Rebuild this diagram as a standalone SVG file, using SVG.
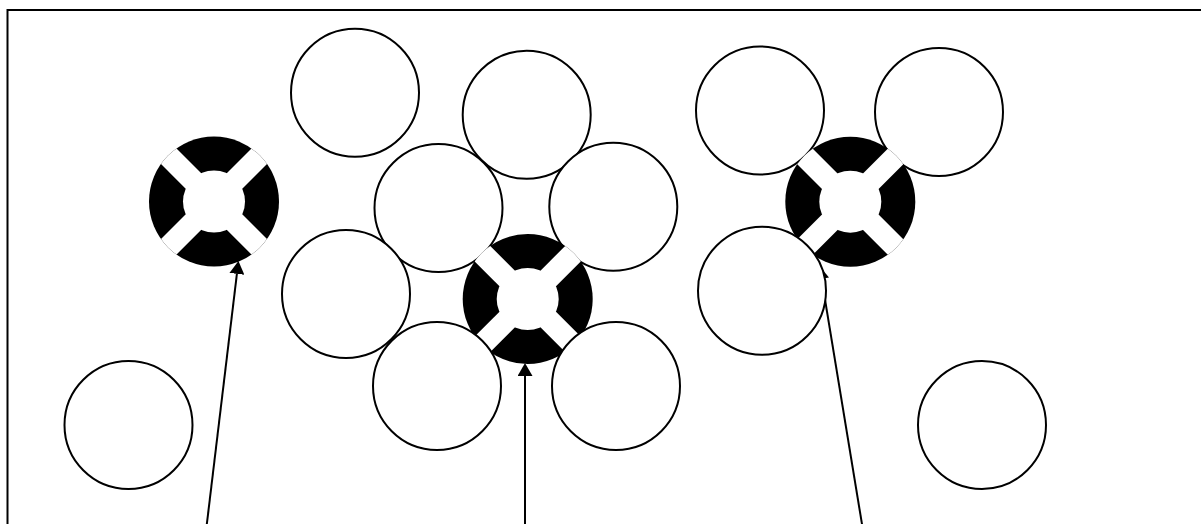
<svg xmlns="http://www.w3.org/2000/svg" xmlns:xlink="http://www.w3.org/1999/xlink" width="1201" height="524" viewBox="0 0 1201 524">
  <style>
    .c { fill: #fff; stroke: #000; stroke-width: 2; }
    .frame { fill: none; stroke: #000; stroke-width: 2; }
    .arrow { fill: none; stroke: #000; stroke-width: 2; marker-end: url(#ah); }
  </style>
  <defs>
    <clipPath id="dclip"><circle r="65"/></clipPath>
    <marker id="ah" markerUnits="userSpaceOnUse" viewBox="0 0 13 15" markerWidth="13" markerHeight="15" refX="0" refY="7.5" orient="auto">
      <path d="M0,0 L13,7.5 L0,15 z" fill="#000"/>
    </marker>
    <g id="donut">
      <circle r="65" fill="#000"/>
      <circle r="31" fill="#fff"/>
      <g clip-path="url(#dclip)" fill="#fff">
        <rect x="-70" y="-11" width="140" height="22" transform="rotate(45)"/>
        <rect x="-70" y="-11" width="140" height="22" transform="rotate(-45)"/>
      </g>
    </g>
  </defs>
  <rect width="1201" height="524" fill="#fff"/>
  <path class="frame" d="M7.5,526 V10 H1203"/>

  <g id="circle-top-left"><circle class="c" cx="355" cy="92.7" r="64"/></g>
  <g id="circle-top-middle"><circle class="c" cx="526.7" cy="114.8" r="64"/></g>
  <g id="circle-upper-left"><circle class="c" cx="438.5" cy="208" r="64"/></g>
  <g id="circle-upper-right"><circle class="c" cx="613.3" cy="206.7" r="64"/></g>
  <g id="circle-mid-left"><circle class="c" cx="346" cy="294" r="64"/></g>
  <g id="circle-right-top-a"><circle class="c" cx="760" cy="110.5" r="64"/></g>
  <g id="circle-right-top-b"><circle class="c" cx="939" cy="112" r="64"/></g>
  <g id="circle-far-left"><circle class="c" cx="128.5" cy="425" r="64"/></g>
  <g id="circle-far-right"><circle class="c" cx="982" cy="425" r="64"/></g>

  <g id="donut-1"><use xlink:href="#donut" href="#donut" transform="translate(214,201.5)"/></g>
  <g id="donut-2"><use xlink:href="#donut" href="#donut" transform="translate(527.7,299)"/></g>
  <g id="donut-3"><use xlink:href="#donut" href="#donut" transform="translate(850.3,201.7)"/></g>

  <g id="connectors">
    <path class="arrow" d="M206.6,526 L236.9,273.9"/>
    <path class="arrow" d="M525,526 L525,376"/>
    <path class="arrow" d="M862.3,526 L821.6,278.8"/>
  </g>

  <g id="circle-lower-left"><circle class="c" cx="437" cy="386" r="64"/></g>
  <g id="circle-lower-right"><circle class="c" cx="616" cy="386" r="64"/></g>
  <g id="circle-right-lower"><circle class="c" cx="762" cy="290.7" r="64"/></g>
</svg>
